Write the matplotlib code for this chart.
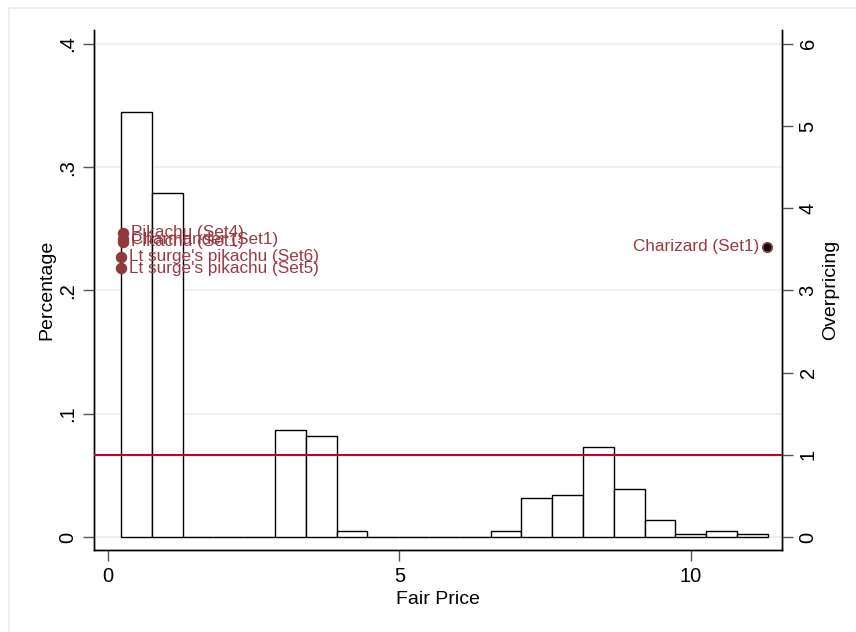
import numpy as np
import matplotlib
matplotlib.use("Agg")
import matplotlib.pyplot as plt
from matplotlib.lines import Line2D

plt.rcParams['font.family'] = ['Liberation Sans', 'DejaVu Sans']

# histogram of fair price (fraction per bin)
bin_start = 0.227
bin_width = 0.528
bin_heights = [0.345, 0.279, 0, 0, 0, 0.0865, 0.0818, 0.0049, 0, 0, 0, 0,
               0.0049, 0.032, 0.0339, 0.0729, 0.0388, 0.0138, 0.0022, 0.0049, 0.0022]

# overpriced cards
card_names = ["Pikachu (Set4)", "Charmander (Set1)", "Pikachu (Set1)",
              "Lt surge's pikachu (Set6)", "Lt surge's pikachu (Set5)"]
card_price = [0.26, 0.26, 0.26, 0.227, 0.227]
card_over = [3.70, 3.625, 3.59, 3.41, 3.27]

chz_name = "Charizard (Set1)"
chz_price = 11.305
chz_over = 3.53

maroon = '#903a3f'
lab_col = '#9a3a42'

fig = plt.figure(figsize=(8.56, 6.32), dpi=100)
ax = fig.add_axes([94/856, 1-550/632, (782-94)/856, (550-30)/632])
ax2 = ax.twinx()

edges = bin_start + bin_width*np.arange(len(bin_heights))
ax.bar(edges, bin_heights, width=bin_width, align='edge', color='white',
       edgecolor='black', linewidth=1.0, zorder=2)

ax.set_xlim(-0.235, 11.56)
ax.set_ylim(-0.0105, 0.4112)
ax2.set_ylim(-0.158, 6.168)

ax.set_yticks([0, 0.1, 0.2, 0.3, 0.4])
ax.set_yticklabels(['0', '.1', '.2', '.3', '.4'], rotation=90, va='center')
ax.set_xticks([0, 5, 10])
ax2.set_yticks(range(7))
ax2.set_yticklabels([str(i) for i in range(7)], rotation=90, va='center')

ax.grid(axis='y', color='#eaf1f3', linewidth=1.4, zorder=0)
ax.set_axisbelow(True)

for a in (ax, ax2):
    a.spines['top'].set_visible(False)
    for s in ('left', 'right', 'bottom'):
        a.spines[s].set_linewidth(1.0)
    a.tick_params(length=8, width=1.0, color='#555555', labelsize=14.5, pad=4)

ax2.axhline(1, color='#c8002f', linewidth=1.5, zorder=3)

ax2.scatter(card_price, card_over, s=68, color=maroon, zorder=4, linewidths=0)
for n, x, y in zip(card_names, card_price, card_over):
    ax2.annotate(n, (x, y), xytext=(6, 0), textcoords='offset points',
                 va='center', ha='left', fontsize=12.3, color=lab_col)
ax2.scatter([chz_price], [chz_over], s=45, color='black', edgecolor=maroon,
            linewidths=1.3, zorder=4)
ax2.annotate(chz_name, (chz_price, chz_over), xytext=(-6, 0), textcoords='offset points',
             va='center', ha='right', fontsize=12.3, color=lab_col)

ax.set_xlabel("Fair Price", fontsize=14, labelpad=4)
ax.set_ylabel("Percentage", fontsize=14, labelpad=2)
ax2.set_ylabel("Overpricing", fontsize=14, labelpad=3)

# light outer frame
fig.add_artist(Line2D([9/856, 9/856], [0, 1-8/632], color='#e6eef0', linewidth=1.2))
fig.add_artist(Line2D([9/856, 1], [1-8/632, 1-8/632], color='#e6eef0', linewidth=1.2))

fig.savefig("out.png", dpi=100)
